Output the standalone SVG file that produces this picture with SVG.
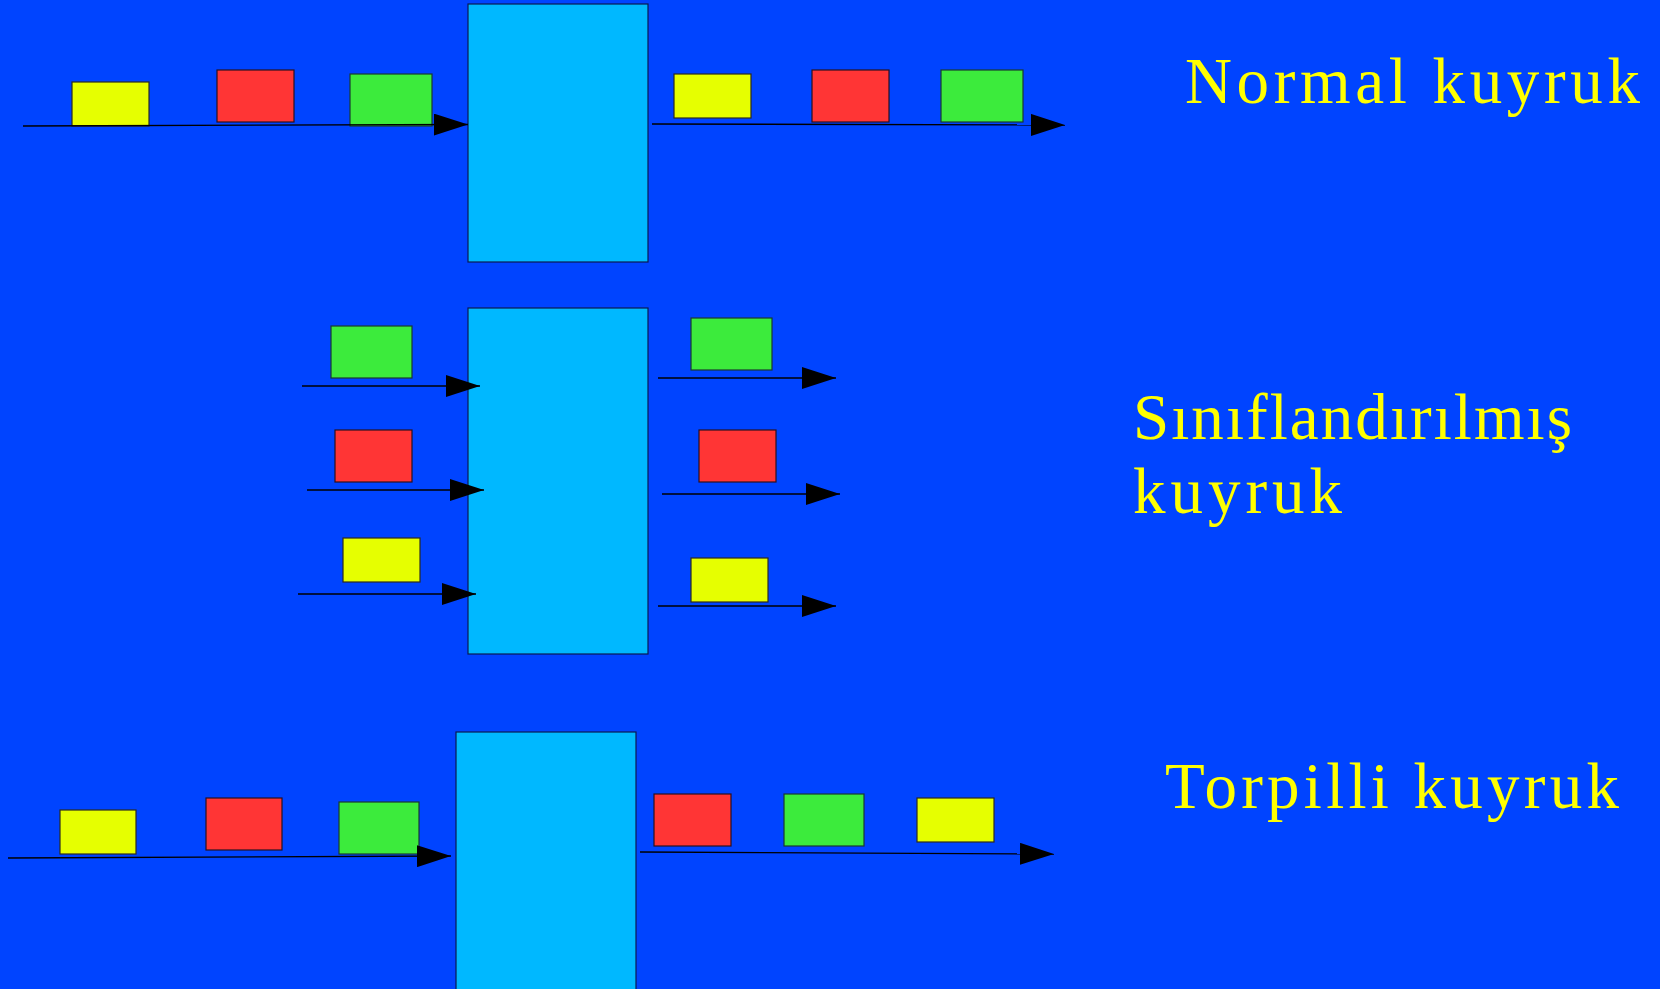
<svg xmlns="http://www.w3.org/2000/svg" width="1660" height="989" viewBox="0 0 1660 989">
<defs>
<style>
.bg{fill:#0044FF}
.q{fill:#00B8FF;stroke:#0A1A50;stroke-width:1.2}
.y{fill:#E6FF00;stroke:#2A2A20;stroke-width:1.2}
.r{fill:#FF3535;stroke:#2A1020;stroke-width:1.2}
.g{fill:#3CEB3C;stroke:#1A3A30;stroke-width:1.2}
.ln{fill:none;stroke:#000;stroke-width:1.3;marker-end:url(#ah)}
.t{fill:#FFFF00;font-family:"Liberation Serif","Times New Roman",serif;font-size:65px}
</style>
<marker id="ah" viewBox="0 0 34 22" markerWidth="34" markerHeight="22" refX="34" refY="11" orient="auto" markerUnits="userSpaceOnUse">
<path d="M0,0 L34,11 L0,22 Z" fill="#000"/>
</marker>
</defs>
<rect class="bg" x="0" y="0" width="1660" height="989"/>

<g id="normal">
<rect id="q1" class="q" x="468" y="4" width="180" height="258"/>
<rect class="y" x="72" y="82" width="77" height="44"/>
<rect class="r" x="217" y="70" width="77" height="52"/>
<rect class="g" x="350" y="74" width="82" height="52"/>
<rect class="y" x="674" y="74" width="77" height="44"/>
<rect class="r" x="812" y="70" width="77" height="52"/>
<rect class="g" x="941" y="70" width="82" height="52"/>
</g>

<g id="classified">
<rect id="q2" class="q" x="468" y="308" width="180" height="346"/>
<rect class="g" x="331" y="326" width="81" height="52"/>
<rect class="r" x="335" y="430" width="77" height="52"/>
<rect class="y" x="343" y="538" width="77" height="44"/>
<rect class="g" x="691" y="318" width="81" height="52"/>
<rect class="r" x="699" y="430" width="77" height="52"/>
<rect class="y" x="691" y="558" width="77" height="44"/>
</g>

<g id="torpedo">
<rect id="q3" class="q" x="456" y="732" width="180" height="270"/>
<rect class="y" x="60" y="810" width="76" height="44"/>
<rect class="r" x="206" y="798" width="76" height="52"/>
<rect class="g" x="339" y="802" width="80" height="52"/>
<rect class="r" x="654" y="794" width="77" height="52"/>
<rect class="g" x="784" y="794" width="80" height="52"/>
<rect class="y" x="917" y="798" width="77" height="44"/>
</g>

<g id="connectors">
<path class="ln" d="M23,126 L468,124.5"/>
<path class="ln" d="M652,124 L1065,125"/>
<path class="ln" d="M302,386 L480,386"/>
<path class="ln" d="M307,490 L484,490"/>
<path class="ln" d="M298,594 L476,594"/>
<path class="ln" d="M658,378 L836,378"/>
<path class="ln" d="M662,494 L840,494"/>
<path class="ln" d="M658,606 L836,606"/>
<path class="ln" d="M8,858 L451,856"/>
<path class="ln" d="M640,852 L1054,854"/>
</g>

<g id="labels">
<text class="t" x="1185" y="103" textLength="455" lengthAdjust="spacing">Normal kuyruk</text>
<text class="t" x="1133" y="439" textLength="439" lengthAdjust="spacing">Sınıflandırılmış</text>
<text class="t" x="1133" y="513" textLength="209" lengthAdjust="spacing">kuyruk</text>
<text class="t" x="1165" y="808" textLength="454" lengthAdjust="spacing">Torpilli kuyruk</text>
</g>
</svg>
